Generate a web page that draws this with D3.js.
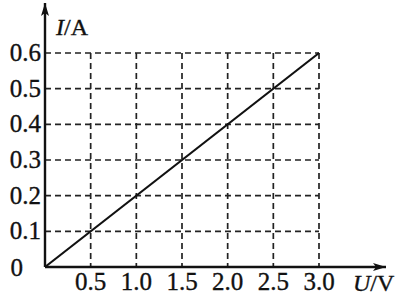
<!DOCTYPE html>
<html>
<head>
<meta charset="utf-8">
<script src="https://cdn.jsdelivr.net/npm/d3@7"></script>
<style>
  body { margin: 0; background: #fff; }
  svg text { font-family: "Liberation Serif", "DejaVu Serif", serif; fill: #111; stroke: #111; stroke-width: 0.35; }
</style>
</head>
<body>
<svg id="chart" width="407" height="296"></svg>
<script>
const xTicks = [0.5, 1.0, 1.5, 2.0, 2.5, 3.0];
const yTicks = [0.1, 0.2, 0.3, 0.4, 0.5, 0.6];
const lineU = [0, 3.0];
const lineI = [0, 0.6];

const svg = d3.select("#chart");
const x = d3.scaleLinear().domain([0, 3.0]).range([45, 319]);
const y = d3.scaleLinear().domain([0, 0.6]).range([267, 53]);

// dashed grid
const grid = svg.append("g")
    .attr("stroke", "#222").attr("stroke-width", 1.7)
    .attr("stroke-dasharray", "6,4").attr("fill", "none");
grid.selectAll("line.v").data(xTicks).join("line")
    .attr("x1", d => x(d)).attr("x2", d => x(d))
    .attr("y1", y(0.6)).attr("y2", y(0));
grid.selectAll("line.h").data(yTicks).join("line")
    .attr("x1", x(0)).attr("x2", x(3.0))
    .attr("y1", d => y(d)).attr("y2", d => y(d));

// axes with arrows
svg.append("defs").append("marker")
    .attr("id", "arrow").attr("viewBox", "0 0 13 8")
    .attr("refX", 13).attr("refY", 4)
    .attr("markerWidth", 13).attr("markerHeight", 8)
    .attr("markerUnits", "userSpaceOnUse")
    .attr("orient", "auto")
  .append("path").attr("d", "M0,0 L13,4 L0,8 L3,4 Z").attr("fill", "#111");

svg.append("line")
    .attr("x1", x(0)).attr("y1", y(0)).attr("x2", 386).attr("y2", y(0))
    .attr("stroke", "#111").attr("stroke-width", 2.4)
    .attr("marker-end", "url(#arrow)");
svg.append("line")
    .attr("x1", x(0)).attr("y1", y(0)).attr("x2", x(0)).attr("y2", 3)
    .attr("stroke", "#111").attr("stroke-width", 2.4)
    .attr("marker-end", "url(#arrow)");

// data line
svg.append("path")
    .datum(d3.zip(lineU, lineI))
    .attr("d", d3.line().x(d => x(d[0])).y(d => y(d[1])))
    .attr("stroke", "#111").attr("stroke-width", 2.2).attr("fill", "none");

// tick labels
svg.append("g").selectAll("text").data(xTicks).join("text")
    .attr("x", d => x(d)).attr("y", 290)
    .attr("text-anchor", "middle").attr("font-size", 25)
    .text(d => d.toFixed(1));
svg.append("g").selectAll("text").data(yTicks).join("text")
    .attr("x", 41).attr("y", d => y(d) + 8)
    .attr("text-anchor", "end").attr("font-size", 25)
    .text(d => d.toFixed(1));
svg.append("text").attr("x", 23).attr("y", 276)
    .attr("text-anchor", "end").attr("font-size", 25).text("0");

// axis titles
const yt = svg.append("text").attr("x", 56).attr("y", 35).attr("font-size", 24);
yt.append("tspan").attr("font-style", "italic").text("I");
yt.append("tspan").text("/A");
const xt = svg.append("text").attr("x", 353).attr("y", 291).attr("font-size", 24);
xt.append("tspan").attr("font-style", "italic").text("U");
xt.append("tspan").text("/V");
</script>
</body>
</html>
